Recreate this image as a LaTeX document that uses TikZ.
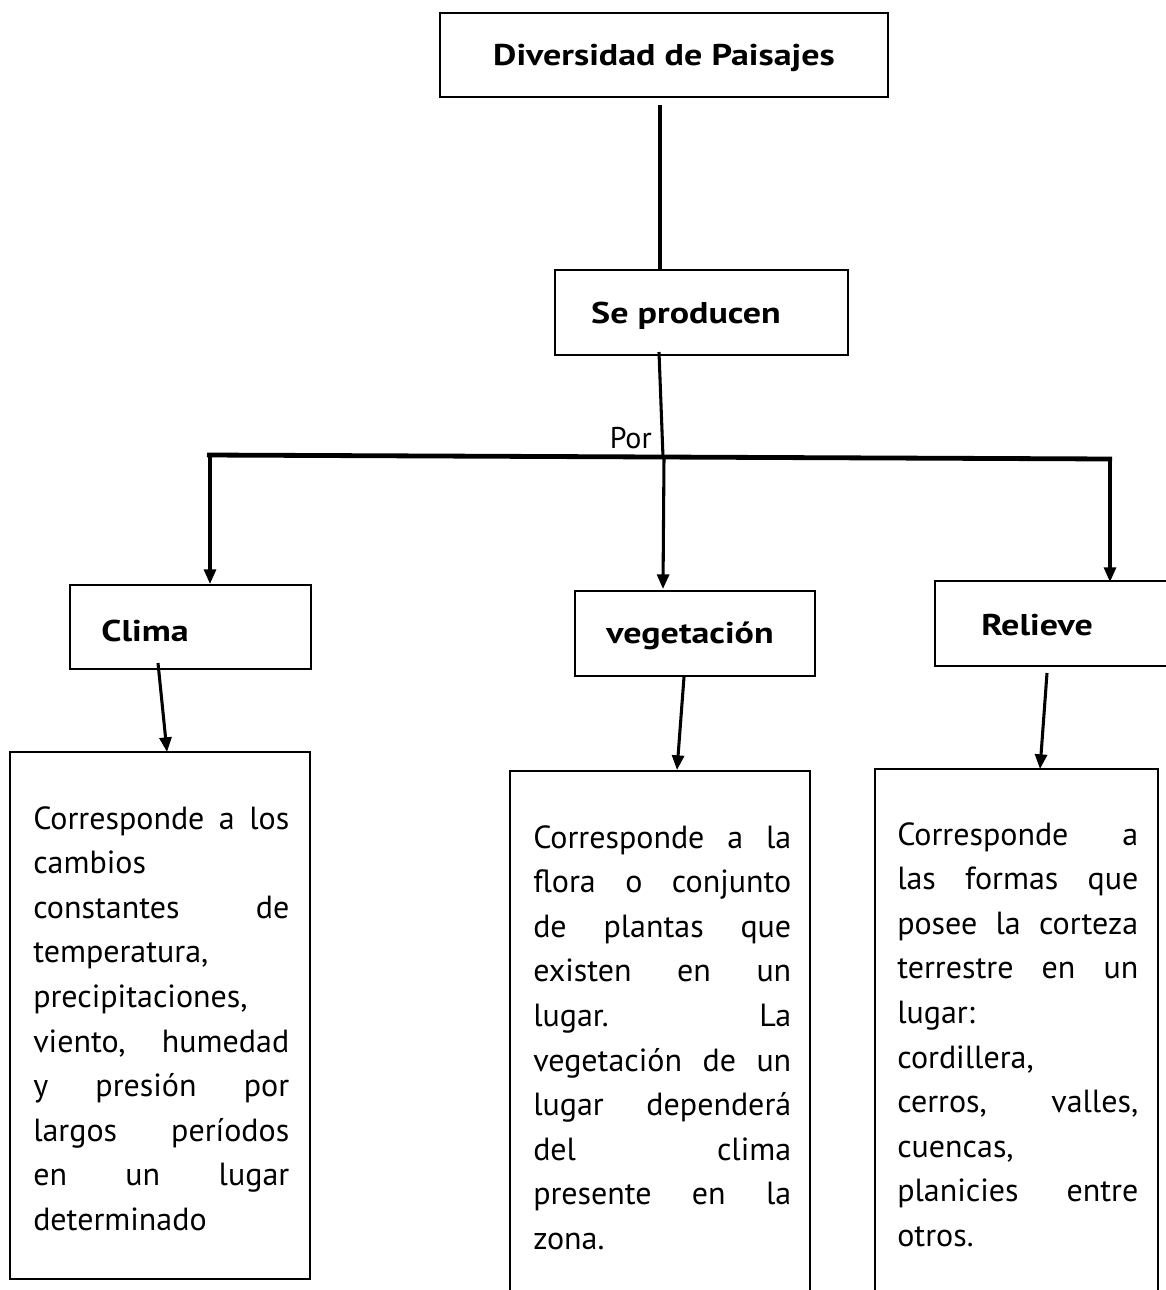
\documentclass[tikz,border=0pt]{standalone}
\usepackage{fontspec}
\setmainfont{PT Sans}
\newfontfamily\headfont{PT Sans}[FakeStretch=1.2]
\usetikzlibrary{arrows.meta}
\newcommand{\jline}[1]{\makebox[\hsize][s]{\spaceskip=.3em plus 1fil\relax\xspaceskip=.3em plus 1fil\relax #1}}
\newcommand{\lline}[1]{\makebox[\hsize][l]{#1}}
\frenchspacing
\begin{document}
\begin{tikzpicture}[x=0.75pt,y=-0.75pt,
  box/.style={draw=black,line width=1.9pt,inner sep=0pt},
  head/.style={inner sep=0pt,font=\headfont\fontsize{22.5}{27}\selectfont\bfseries},
  body/.style={inner sep=0pt,anchor=north west,align=left,
    font=\fontsize{24}{33.45}\selectfont},
  conn/.style={line width=2.3pt},
  bar/.style={line width=3.6pt},
  arr/.style={line width=2.3pt,-{Triangle[length=11pt,width=9pt]}}]
\useasboundingbox (0,0) rectangle (1166,1290);
% boxes
\node[box,minimum width=336pt,minimum height=63pt] (top) at (664,55) {};
\node[head] (ttop) at (664,58) {Diversidad de Paisajes};
\node[box,minimum width=219.75pt,minimum height=63.75pt] (prod) at (701.5,312.5) {};
\node[head] (tprod) at (686,316) {Se producen};
\node[box,minimum width=180.75pt,minimum height=63pt] (clima) at (190.5,627) {};
\node[head] (tclima) at (145,631) {Clima};
\node[box,minimum width=180pt,minimum height=63.75pt] (veg) at (695,633.5) {};
\node[head] (tveg) at (690,636) {vegetación};
\node[box,minimum width=183.75pt,minimum height=63.75pt] (rel) at (1057.5,623.5) {};
\node[head] (trel) at (1037,625) {Relieve};
\node[box,minimum width=225pt,minimum height=395.25pt] (lclima) at (160,1015.5) {};
\node[box,minimum width=225pt,minimum height=396.75pt] (lveg) at (660,1035.5) {};
\node[box,minimum width=212.25pt,minimum height=398.25pt] (lrel) at (1016.5,1034.5) {};
% texts
\node[body,text width=192pt] (bclima) at (33,806) {%
\jline{Corresponde a los}\\
\lline{cambios}\\
\jline{constantes de}\\
\lline{temperatura,}\\
\lline{precipitaciones,}\\
\jline{viento, humedad}\\
\jline{y presión por}\\
\jline{largos períodos}\\
\jline{en un lugar}\\
\lline{determinado}};
\node[body,text width=193.5pt] (bveg) at (533,825) {%
\jline{Corresponde a la}\\
\jline{flora o conjunto}\\
\jline{de plantas que}\\
\jline{existen en un}\\
\jline{lugar. La}\\
\jline{vegetación de un}\\
\jline{lugar dependerá}\\
\jline{del clima}\\
\jline{presente en la}\\
\lline{zona.}};
\node[body,text width=180.75pt] (brel) at (897,822) {%
\jline{Corresponde a}\\
\jline{las formas que}\\
\jline{posee la corteza}\\
\jline{terrestre en un}\\
\lline{lugar:}\\
\lline{cordillera,}\\
\jline{cerros, valles,}\\
\lline{cuencas,}\\
\jline{planicies entre}\\
\lline{otros.}};
\node[inner sep=0pt,anchor=base east,font=\fontsize{22.5}{27}\selectfont] (por) at (652,448) {Por};
% coordinates
\coordinate (c1) at (660,105);
\coordinate (c2) at (659,352);
\coordinate (bl) at (207,455);
\coordinate (bm) at (663,457);
\coordinate (br) at (1112,459);
\coordinate (al) at (210,455);
\coordinate (am) at (664,458);
\coordinate (ar) at (1110,459);
\coordinate (ae1) at (210,584);
\coordinate (ae2) at (663,589);
\coordinate (ae3) at (1110,582);
\coordinate (d1) at (158,663);
\coordinate (e1) at (167,752);
\coordinate (d2) at (684,677);
\coordinate (e2) at (677,770);
\coordinate (d3) at (1047,673);
\coordinate (e3) at (1040,769);
% connectors
\draw[conn] (c1) -- (c1 |- prod.north);
\draw[conn] (c2) -- (bm);
\draw[bar] (bl) -- (br);
\draw[arr] (al) -- (ae1);
\draw[arr] (am) -- (ae2);
\draw[arr] (ar) -- (ae3);
\draw[arr] (d1) -- (e1);
\draw[arr] (d2) -- (e2);
\draw[arr] (d3) -- (e3);
\end{tikzpicture}
\end{document}
